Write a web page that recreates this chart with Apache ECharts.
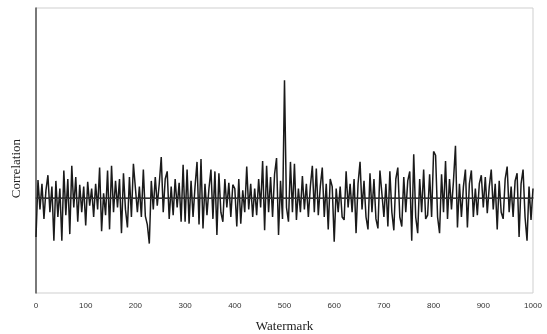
<!DOCTYPE html>
<html>
<head>
<meta charset="utf-8">
<script src="https://cdn.jsdelivr.net/npm/echarts@6/dist/echarts.min.js"></script>
<style>
  html, body { margin: 0; padding: 0; background: #fff; }
  #chart { width: 547px; height: 334px; }
</style>
</head>
<body>
<div id="chart"></div>
<script>
// watermark step between samples
const watermarkStep = 4;
const xTicks = [0, 100, 200, 300, 400, 500, 600, 700, 800, 900, 1000];

// correlation response, one value per 4 watermarks (0..1000)
const correlation = [
  -0.41, 0.19, -0.12, 0.15, -0.22, 0.08, 0.24, -0.15, 0.12, -0.45,
  0.18, -0.2, 0.1, -0.45, 0.29, -0.18, 0.2, -0.38, 0.34, -0.1,
  0.22, -0.25, 0.14, -0.15, 0.12,
  -0.29, 0.17, -0.08, 0.1, -0.2, 0.15, -0.12, 0.32, -0.35, 0.05,
  -0.18, 0.29, -0.33, 0.34, -0.15, 0.18, -0.1, 0.2, -0.37, 0.26,
  -0.12, -0.31, 0.22, -0.2, 0.36,
  0.34, -0.15, 0.12, -0.2, 0.3, -0.19, -0.28, -0.48, 0.18, -0.12,
  0.22, -0.08, 0.15, 0.43, -0.15, 0.2, 0.28, -0.22, 0.12, -0.18,
  0.2, -0.1, 0.16, -0.25, 0.35,
  -0.25, 0.3, -0.27, 0.18, -0.2, 0.12, 0.38, -0.28, 0.41, -0.32,
  0.15, -0.18, 0.1, 0.3, -0.22, 0.28, -0.39, 0.26, -0.15, -0.25,
  0.2, -0.1, 0.16, -0.2, 0.14,
  0.1, -0.3, 0.2, -0.27, 0.08, -0.15, 0.33, -0.12, 0.15, -0.2,
  0.1, -0.18, 0.2, -0.1, 0.39, -0.34, 0.34, -0.15, 0.22, -0.2,
  0.25, 0.42, -0.39, 0.18, -0.22,
  1.24, -0.1, -0.25, 0.38, -0.15, 0.36, -0.23, 0.1, -0.15, 0.23,
  -0.12, 0.15, -0.2, 0.12, 0.34, -0.15, 0.31, -0.18, 0.12, 0.32,
  -0.2, 0.15, -0.33, 0.2, 0.12,
  -0.46, 0.1, -0.15, 0.12, -0.2, -0.23, 0.28, -0.1, 0.15, -0.15,
  0.2, -0.37, 0.15, 0.38, -0.12, 0.18, -0.2, -0.33, 0.26, -0.15,
  0.2, -0.22, -0.32, 0.29, 0.3,
  -0.2, 0.15, -0.3, 0.28, -0.15, -0.34, 0.2, 0.32, -0.2, -0.3,
  0.22, -0.15, 0.18, 0.28, -0.45, 0.46, -0.2, -0.37, 0.2, -0.15,
  0.3, -0.22, -0.18, 0.25, -0.2,
  0.49, 0.45, -0.2, -0.37, 0.25, -0.15, 0.39, -0.22, 0.2, -0.12,
  0.18, 0.55, -0.31, 0.15, -0.2, 0.12, 0.3, -0.31, 0.15, 0.29,
  -0.2, 0.1, -0.18, 0.15, 0.24,
  -0.1, 0.22, -0.16, 0.12, 0.3, -0.12, 0.15, -0.33, 0.18, -0.15,
  -0.22, 0.2, 0.33, -0.15, 0.12, -0.2, 0.18, 0.26, -0.41, 0.15,
  0.3, -0.2, -0.45, 0.12, -0.23, 0.1
];

const chart = echarts.init(document.getElementById('chart'), null, { renderer: 'canvas' });

const points = correlation.map((v, i) => [i * watermarkStep, v]);

const option = {
  backgroundColor: '#fff',
  animation: false,
  grid: {
    left: 36,
    right: 14,
    top: 8,
    bottom: 41,
    outerBoundsMode: 'none',
    containLabel: false,
    show: true,
    borderColor: '#cfcfcf',
    borderWidth: 1,
    backgroundColor: 'transparent'
  },
  graphic: [
    {
      type: 'text',
      left: 10,
      top: 139,
      rotation: Math.PI / 2,
      style: {
        text: 'Correlation',
        fontFamily: 'Liberation Serif',
        fontSize: 13,
        fill: '#222'
      }
    }
  ],
  xAxis: {
    type: 'value',
    min: 0,
    max: 1000,
    interval: 100,
    name: 'Watermark',
    nameLocation: 'middle',
    nameGap: 27,
    nameTextStyle: {
      fontFamily: 'Liberation Serif',
      fontSize: 13,
      color: '#222'
    },
    axisLine: { show: true, lineStyle: { color: '#555', width: 1.5 } },
    axisTick: { show: false },
    axisLabel: {
      color: '#333',
      fontSize: 8,
      fontFamily: 'Liberation Sans',
      margin: 9,
      formatter: v => xTicks.includes(v) ? String(v) : ''
    },
    splitLine: { show: false }
  },
  yAxis: {
    type: 'value',
    min: -1,
    max: 2,
    axisLine: { show: true, onZero: false, lineStyle: { color: '#555', width: 1.5 } },
    axisTick: { show: false },
    axisLabel: { show: false },
    splitLine: { show: false }
  },
  series: [
    {
      type: 'line',
      data: points,
      showSymbol: false,
      lineStyle: { color: '#1a1a1a', width: 1.5 },
      markLine: {
        silent: true,
        symbol: 'none',
        label: { show: false },
        lineStyle: { color: '#333', width: 1, type: 'solid' },
        data: [{ yAxis: 0 }]
      }
    }
  ]
};

chart.setOption(option);
</script>
</body>
</html>
